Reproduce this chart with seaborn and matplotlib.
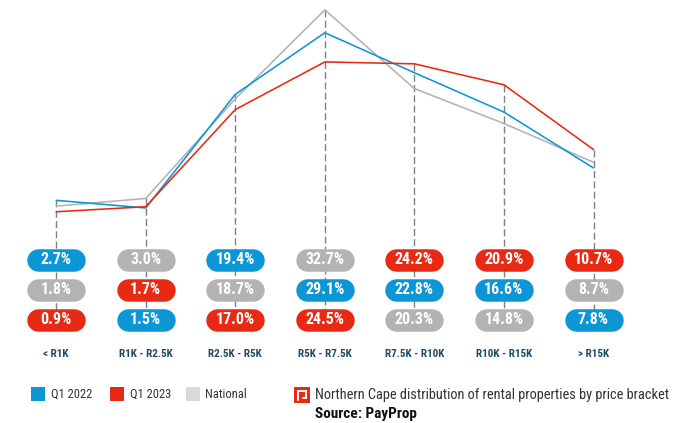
import matplotlib.pyplot as plt
import pandas as pd
import seaborn as sns
from matplotlib.patches import Rectangle


CATEGORIES = ["< R1K", "R1K - R2.5K", "R2.5K - R5K", "R5K - R7.5K", "R7.5K - R10K", "R10K - R15K", "> R15K"]
Q1_2022 = [2.7, 1.5, 19.4, 29.1, 22.8, 16.6, 7.8]
Q1_2023 = [0.9, 1.7, 17.0, 24.5, 24.2, 20.9, 10.7]
NATIONAL = [1.8, 3.0, 18.7, 32.7, 20.3, 14.8, 8.7]

COLOURS = {"Q1 2022": "#0c96d6", "Q1 2023": "#e82a14", "National": "#b3b3b3"}
LEGEND_COLOURS = {"Q1 2022": "#0c96d6", "Q1 2023": "#e82a14", "National": "#d9d9d9"}

WIDTH, HEIGHT = 697, 423
X0, X_STEP = 56.2, 89.55
Y0, Y_STEP = 217.5, 6.35
FONT = ["Roboto Condensed", "DejaVu Sans"]


def main() -> None:
    sns.set_theme(style="white")
    plt.rcParams["font.family"] = FONT

    df = pd.DataFrame({"bracket": list(range(len(CATEGORIES))), "Q1 2022": Q1_2022, "Q1 2023": Q1_2023, "National": NATIONAL})
    long = df.melt(id_vars="bracket", var_name="series", value_name="share")

    fig = plt.figure(figsize=(WIDTH / 100, HEIGHT / 100), dpi=100)

    # axes cover the whole figure, limits chosen so the values land where the original has them
    ax = fig.add_axes([0, 0, 1, 1])
    ax.set_xlim(-X0 / X_STEP, (WIDTH - X0) / X_STEP)
    ax.set_ylim((Y0 - HEIGHT) / Y_STEP, Y0 / Y_STEP)

    # pixel overlay for pills, labels and legend
    ov = fig.add_axes([0, 0, 1, 1], zorder=3)
    ov.set_xlim(0, WIDTH)
    ov.set_ylim(HEIGHT, 0)
    ov.axis("off")
    ov.patch.set_alpha(0)

    for i in df["bracket"]:
        top = max(Q1_2022[i], Q1_2023[i], NATIONAL[i])
        ax.plot([i, i], [top, (Y0 - 320) / Y_STEP], color="#808080", lw=1.0, dashes=(5, 2.4), zorder=1)

    sns.lineplot(data=long, x="bracket", y="share", hue="series", palette=COLOURS,
                 hue_order=["National", "Q1 2022", "Q1 2023"], lw=1.15, legend=False, ax=ax, zorder=2)
    ax.axis("off")

    for i, label in enumerate(CATEGORIES):
        cx = X0 + i * X_STEP
        rows = sorted(((df.loc[i, s], s) for s in COLOURS), reverse=True)
        for (value, series), cy in zip(rows, [259.7, 289.7, 319.7]):
            # a thick round-capped line gives a true pill shape
            ov.plot([cx - 18, cx + 18], [cy, cy], color=COLOURS[series], lw=16.2, solid_capstyle="round")
            ov.text(cx, cy + 0.2, f"{value:.1f}%", color="white", fontsize=11.5, fontweight="bold", ha="center", va="center")
        ov.text(cx, 354, label, color="#1f4b66", fontsize=8, fontweight="bold", ha="center", va="center")

    for (name, colour), box_x, text_x in zip(LEGEND_COLOURS.items(), [31, 110, 186], [51, 130, 205.5]):
        ov.add_patch(Rectangle((box_x, 387), 14, 14, facecolor=colour, edgecolor="none"))
        ov.text(text_x, 394.5, name, color="#333333", fontsize=9, ha="left", va="center")

    # the little PayProp mark
    ov.add_patch(Rectangle((294, 387), 16, 16, facecolor="#e82a14", edgecolor="none"))
    ov.plot([298.3, 298.3, 305.7, 305.7, 302.5], [400, 391.3, 391.3, 398.5, 398.5], color="white", lw=1.4, solid_joinstyle="miter")

    ov.text(315, 395.5, "Northern Cape distribution of rental properties by price bracket", color="#333333", fontsize=10.35, ha="left", va="center")
    ov.text(315, 414, "Source: PayProp", color="#111111", fontsize=11, fontweight="bold", ha="left", va="center")

    fig.savefig("out.png", dpi=100)
    plt.close(fig)


if __name__ == "__main__":
    main()
